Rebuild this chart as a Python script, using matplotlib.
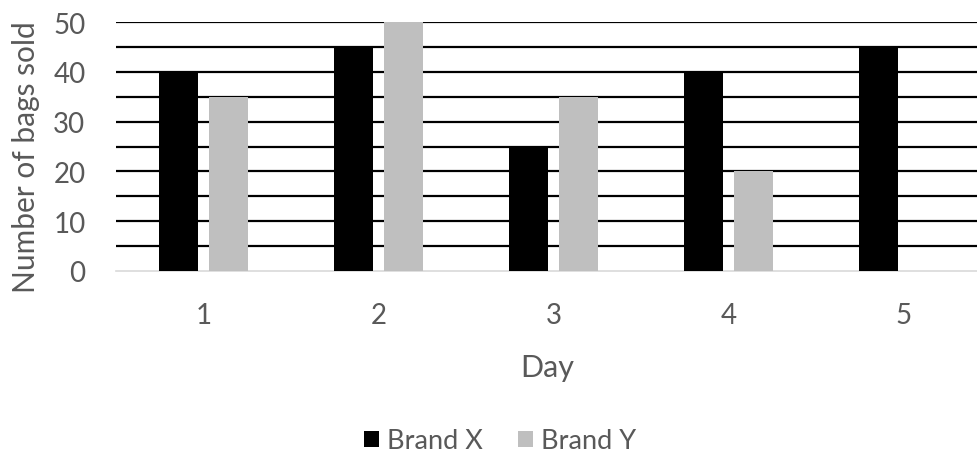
import matplotlib
matplotlib.use("Agg")
import matplotlib.pyplot as plt
import numpy as np

days = ["1", "2", "3", "4", "5"]
brand_x = [40, 45, 25, 40, 45]
brand_y = [35, 50, 35, 20, 0]
yticks = [0, 10, 20, 30, 40, 50]

plt.rcParams["font.family"] = ["Lato", "DejaVu Sans"]
TXT = "#595959"

fig = plt.figure(figsize=(9.78, 4.56), dpi=100)
W, H = 978, 456
ax = fig.add_axes([116 / W, 1 - 272 / H, (978 - 116) / W, (272 - 23) / H])

x = np.arange(len(days))
bw = 0.22
off = 0.143
ax.bar(x - off, brand_x, bw, color="black", label="Brand X", zorder=3)
ax.bar(x + off, brand_y, bw, color="#bfbfbf", label="Brand Y", zorder=3)

for v in range(5, 51, 5):
    ax.axhline(v, color="black", lw=1.6, zorder=1)

ax.set_ylim(0, 50)
ax.set_xlim(-0.5, 4.5 - 13 / 175)
ax.set_yticks(yticks)
ax.set_xticks(x)
ax.set_xticklabels(days)
ax.tick_params(length=0, labelsize=20, colors=TXT)
ax.tick_params(axis="x", pad=22)
ax.tick_params(axis="y", pad=22)
for s in ["top", "right", "left"]:
    ax.spines[s].set_visible(False)
ax.spines["bottom"].set_color("#d9d9d9")
ax.spines["bottom"].set_linewidth(1.2)

ax.set_xlabel("Day", fontsize=22, color=TXT, labelpad=18)
fig.text(26 / W, 1 - 157 / H, "Number of bags sold", fontsize=21.5, color=TXT,
         rotation=90, ha="center", va="center")

fig.legend(loc="center", bbox_to_anchor=(500 / W, 1 - 442 / H), ncol=2,
           frameon=False, fontsize=19.5, labelcolor=TXT, handlelength=0.55,
           handleheight=0.55, handletextpad=0.3, columnspacing=1.3)

fig.savefig("out.png", dpi=100)
